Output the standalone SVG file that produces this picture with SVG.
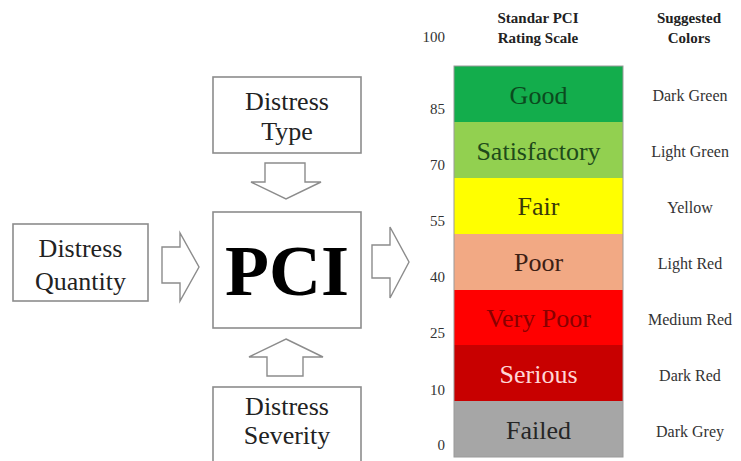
<svg xmlns="http://www.w3.org/2000/svg" width="741" height="461" viewBox="0 0 741 461">
<style>
.box{fill:#fff;stroke:#8c8c8c;stroke-width:1.6}
.arr{fill:#fff;stroke:#8c8c8c;stroke-width:1.4;stroke-linejoin:miter}
.t{font-family:"Liberation Serif","Times New Roman",serif;text-anchor:middle}
.lbl{font-size:26px;fill:#222}
.bar{font-size:26px}
.num{font-family:"Liberation Serif","Times New Roman",serif;font-size:15px;fill:#333;text-anchor:end}
.col{font-size:16px;fill:#333}
.hdr{font-size:15px;font-weight:bold;fill:#222}
</style>
<rect width="741" height="461" fill="#fff"/>
<g id="connectors">
  <polygon class="arr" points="265,163 305,163 305,182 321,182 286,199 251,182 265,182"/>
  <polygon class="arr" points="286,339 323,357 303,357 303,376 267,376 267,357 249,357"/>
  <polygon class="arr" points="162,247 180,247 180,233 199,267 180,301 180,283 162,283"/>
  <polygon class="arr" points="372,245 390,245 390,227 409,262 390,298 390,278 372,278"/>
</g>
<g id="distress-type">
  <rect class="box" x="213" y="77" width="148" height="76"/>
  <text class="t lbl" x="287" y="110">Distress</text>
  <text class="t lbl" x="287" y="140">Type</text>
</g>
<g id="distress-quantity">
  <rect class="box" x="13" y="224" width="135" height="77"/>
  <text class="t lbl" x="80.5" y="257">Distress</text>
  <text class="t lbl" x="80.5" y="290">Quantity</text>
</g>
<g id="pci">
  <rect class="box" x="213" y="212" width="148" height="116"/>
  <text class="t" x="287" y="295" font-size="72" font-weight="bold" fill="#000">PCI</text>
</g>
<g id="distress-severity">
  <rect class="box" x="213" y="387" width="148" height="80"/>
  <text class="t lbl" x="287" y="415" font-size="25">Distress</text>
  <text class="t lbl" x="287" y="444" font-size="25">Severity</text>
</g>
<g id="scale">
  <text class="t hdr" x="538" y="23">Standar PCI</text>
  <text class="t hdr" x="538" y="43">Rating Scale</text>
  <text class="t hdr" x="689" y="23">Suggested</text>
  <text class="t hdr" x="689" y="43">Colors</text>
  <rect x="454" y="66" width="169" height="56" fill="#13ad4c"/>
  <rect x="454" y="122" width="169" height="56" fill="#92d050"/>
  <rect x="454" y="178" width="169" height="56" fill="#ffff00"/>
  <rect x="454" y="234" width="169" height="56" fill="#f2a984"/>
  <rect x="454" y="290" width="169" height="55" fill="#ff0000"/>
  <rect x="454" y="345" width="169" height="56" fill="#c80000"/>
  <rect x="454" y="401" width="169" height="56" fill="#a6a6a6"/>
  <rect x="454" y="66" width="169" height="391" fill="none" stroke="#9a9a9a" stroke-width="1"/>
  <text class="t bar" x="538.5" y="104" fill="#0b4a1e">Good</text>
  <text class="t bar" x="538.5" y="160" fill="#1e4a1a">Satisfactory</text>
  <text class="t bar" x="538.5" y="215" fill="#3a3a0a">Fair</text>
  <text class="t bar" x="538.5" y="271" fill="#3d2014">Poor</text>
  <text class="t bar" x="538.5" y="327" fill="#8a0000">Very Poor</text>
  <text class="t bar" x="538.5" y="383" fill="#ffd6d6">Serious</text>
  <text class="t bar" x="538.5" y="439" fill="#262626">Failed</text>
  <text class="num" x="445" y="42">100</text>
  <text class="num" x="445" y="114">85</text>
  <text class="num" x="445" y="170">70</text>
  <text class="num" x="445" y="226">55</text>
  <text class="num" x="445" y="282">40</text>
  <text class="num" x="445" y="338">25</text>
  <text class="num" x="445" y="395">10</text>
  <text class="num" x="445" y="450">0</text>
  <text class="t col" x="690" y="101">Dark Green</text>
  <text class="t col" x="690" y="157">Light Green</text>
  <text class="t col" x="690" y="213">Yellow</text>
  <text class="t col" x="690" y="269">Light Red</text>
  <text class="t col" x="690" y="325">Medium Red</text>
  <text class="t col" x="690" y="381">Dark Red</text>
  <text class="t col" x="690" y="437">Dark Grey</text>
</g>
</svg>
